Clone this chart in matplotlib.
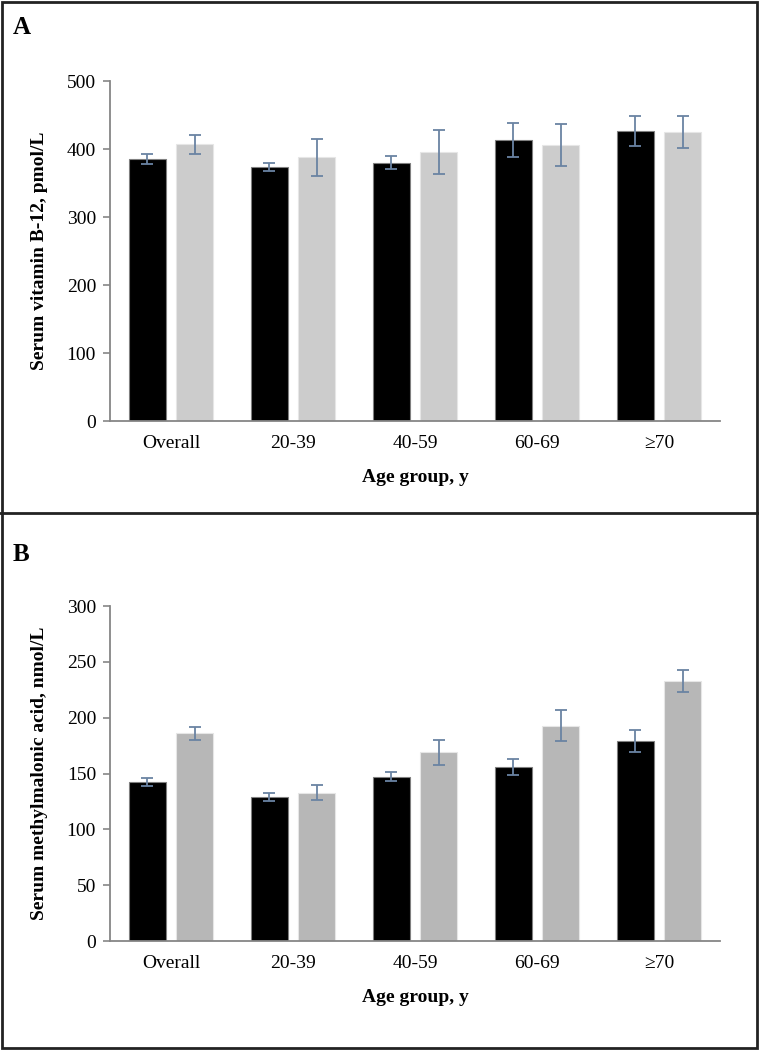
import matplotlib
matplotlib.use("Agg")
import matplotlib.pyplot as plt
import matplotlib.patches as patches
from matplotlib.lines import Line2D
import numpy as np

groups = ['Overall', '20-39', '40-59', '60-69', '\u226570']

# panel A: serum vitamin B-12, pmol/L
b12_black = [385, 374, 380, 413, 426]
b12_black_err = [7, 6, 10, 25, 22]
b12_gray = [407, 388, 396, 406, 425]
b12_gray_err = [14, 27, 32, 31, 23]

# panel B: serum methylmalonic acid, nmol/L
mma_black = [142, 129, 147, 156, 179]
mma_black_err = [3.6, 3.3, 4, 7, 10]
mma_gray = [186, 133, 169, 193, 233]
mma_gray_err = [6, 7, 11, 14, 10]

plt.rcParams['font.family'] = ['Liberation Serif', 'DejaVu Serif']

fig = plt.figure(figsize=(7.59, 10.5), dpi=100)

axis_col = '#868686'
err_col = '#6a83a3'
w = 0.31
off = 0.193


def draw_panel(ax, black, black_err, gray, gray_err, gray_col, ymax, step, ylabel):
    x = np.arange(len(groups))
    ax.bar(x - off, black, w, color='black', edgecolor='#7f7f7f', linewidth=0.8, zorder=2)
    ax.bar(x + off, gray, w, color=gray_col, edgecolor='#e6e6e6', linewidth=0.8, zorder=2)
    ax.errorbar(x - off, black, yerr=black_err, fmt='none', ecolor=err_col,
                elinewidth=1.3, capsize=4.5, capthick=1.3, zorder=3)
    ax.errorbar(x + off, gray, yerr=gray_err, fmt='none', ecolor=err_col,
                elinewidth=1.3, capsize=4.5, capthick=1.3, zorder=3)
    ax.set_xlim(-0.5, len(groups) - 0.5)
    ax.set_ylim(0, ymax)
    ax.set_yticks(np.arange(0, ymax + 1, step))
    ax.set_xticks(x)
    ax.set_xticklabels(groups)
    for s in ['top', 'right']:
        ax.spines[s].set_visible(False)
    for s in ['left', 'bottom']:
        ax.spines[s].set_color(axis_col)
        ax.spines[s].set_linewidth(1.3)
    ax.tick_params(axis='y', colors=axis_col, labelcolor='black', length=5, width=1.2,
                   labelsize=14, pad=5)
    ax.tick_params(axis='x', length=0, labelsize=14, pad=10)
    ax.set_ylabel(ylabel, fontsize=14, fontweight='bold')
    ax.yaxis.set_label_coords(-0.1016, 0.5)
    ax.set_xlabel('Age group, y', fontsize=14, fontweight='bold', labelpad=12)


axA = fig.add_axes([0.1449, 0.599, 0.8037, 0.3238])
draw_panel(axA, b12_black, b12_black_err, b12_gray, b12_gray_err, '#cccccc',
           500, 100, 'Serum vitamin B-12, pmol/L')

axB = fig.add_axes([0.1449, 0.1038, 0.8037, 0.319])
draw_panel(axB, mma_black, mma_black_err, mma_gray, mma_gray_err, '#b7b7b7',
           300, 50, 'Serum methylmalonic acid, nmol/L')

# panel letters
fig.text(0.017, 0.985, 'A', fontsize=18, fontweight='bold', va='top')
fig.text(0.017, 0.483, 'B', fontsize=18, fontweight='bold', va='top')

# outer frame and divider
fig.add_artist(patches.Rectangle((0.002, 0.002), 0.996, 0.996, transform=fig.transFigure,
                                 fill=False, edgecolor='#222222', linewidth=2))
fig.add_artist(Line2D([0, 1], [0.5114, 0.5114], transform=fig.transFigure,
                      color='#222222', linewidth=2))

fig.savefig('out.png', dpi=100)
